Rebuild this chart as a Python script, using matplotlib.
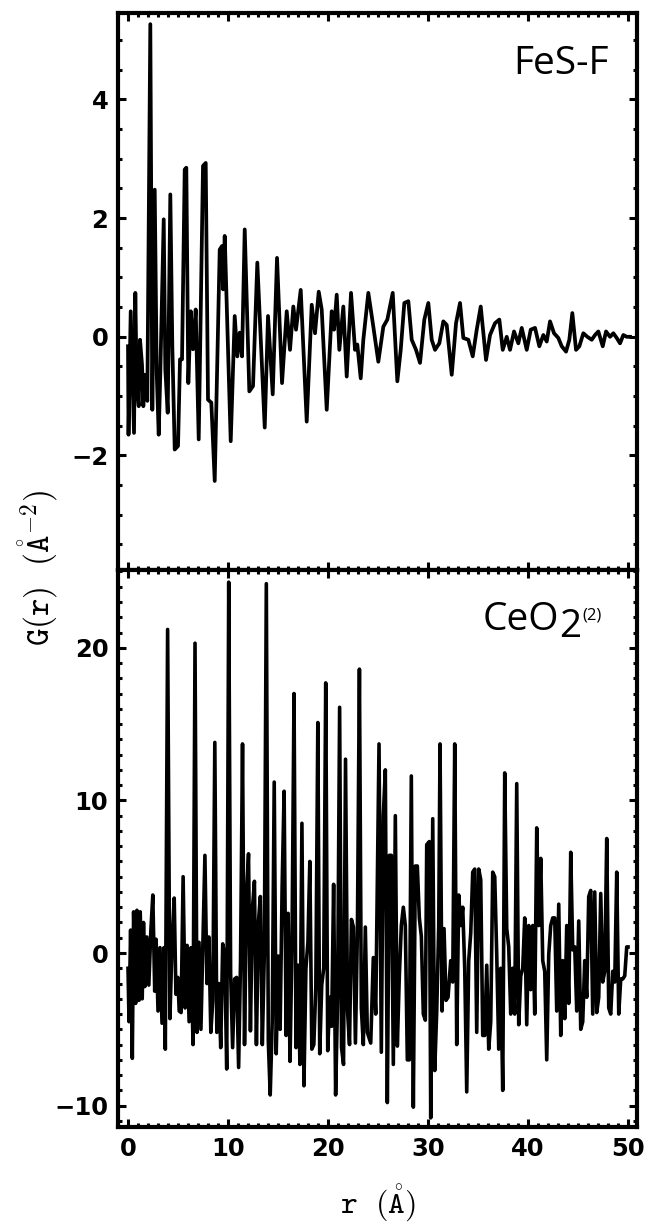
import numpy as np
import matplotlib
matplotlib.use('Agg')
import matplotlib.pyplot as plt
from matplotlib.ticker import MultipleLocator

# FeS-F pair distribution function
r_fes = [0.0, 0.05, 0.27, 0.6, 0.73, 0.87, 1.07, 1.2, 1.4, 1.53, 1.67, 1.93, 2.23, 2.43, 2.67,
         2.87, 3.07, 3.23, 3.57, 3.73, 3.97, 4.23, 4.43, 4.67, 5.0, 5.2, 5.4, 5.67, 5.83, 6.03,
         6.27, 6.5, 6.77, 7.07, 7.5, 7.77, 8.0, 8.33, 8.67, 9.17, 9.4, 9.5, 9.67, 10.27, 10.67,
         10.93, 11.17, 11.4, 11.67, 12.13, 12.5, 12.93, 13.67, 14.0, 14.47, 14.9, 15.4,
         15.87, 16.2, 16.53, 16.8, 17.27, 17.87, 18.37, 18.7, 19.07, 19.37, 19.87, 20.37, 20.6,
         20.87, 21.13, 21.53, 21.87, 22.3, 22.7, 22.93, 23.27, 23.53, 24.03, 24.53, 25.03, 25.53,
         25.93, 26.47, 26.93, 27.27, 27.63, 28.03, 28.37, 28.8, 29.2, 29.63, 30.03, 30.37, 30.7,
         31.13, 31.53, 31.87, 32.37, 32.8, 33.2, 33.53, 34.03, 34.47, 34.87, 35.27, 35.8, 36.2,
         36.7, 37.13, 37.47, 37.87, 38.2, 38.6, 39.03, 39.37, 39.87, 40.27, 40.7, 41.13, 41.53,
         41.87, 42.2, 42.6, 43.03, 43.37, 43.8, 44.13, 44.43, 44.8, 45.13, 45.53, 45.93, 46.37,
         46.7, 47.03, 47.47, 47.8, 48.2, 48.53, 48.87, 49.2, 49.53, 49.87, 50.2]
g_fes = [-0.16, -1.65, 0.43, -1.62, 0.74, -0.83, -1.17, -0.05, -0.47, -1.17, -0.64, -1.08, 5.27, -1.23, 2.48,
         -0.61, -1.65, -0.61, 1.98, -0.55, -1.28, 2.4, -0.16, -1.9, -1.84, -0.38, -0.38, 2.82, 2.85, -0.78,
         0.43, -0.21, 0.46, -1.73, 2.88, 2.93, -1.06, -1.11, -2.43, 1.47, 1.53, 0.8, 1.70, -1.76, 0.35,
         -0.33, 0.07, -0.33, 1.81, -0.92, -0.83, 1.25, -1.53, 0.35, -0.97, 1.33, -0.78,
         0.43, -0.22, 0.51, 0.12, 0.79, -1.43, 0.54, 0.06, 0.76, 0.46, -1.23, 0.43, 0.12,
         0.71, -0.22, 0.51, -0.67, 0.74, -0.22, -0.13, -0.70, -0.05, 0.74, 0.17, -0.42, 0.17,
         0.29, 0.74, -0.75, -0.22, 0.57, 0.60, -0.05, -0.22, -0.44, 0.29, 0.57, -0.05, -0.22,
         -0.11, 0.26, 0.2, -0.64, 0.23, 0.57, -0.02, -0.05, -0.33, 0.12, 0.51, -0.39, 0.03,
         0.23, 0.29, -0.22, 0.0, -0.22, 0.09, -0.11, 0.15, -0.22, 0.12, 0.15, -0.16, 0.03,
         -0.08, 0.26, 0.06, -0.02, -0.16, -0.25, -0.05, 0.40, -0.22, -0.16, 0.06, 0.0, -0.05,
         0.03, 0.09, -0.16, 0.09, 0.0, 0.06, -0.02, -0.11, 0.03, 0.0, 0.0]

# CeO2 reference pair distribution function
r_ceo = [0.0, 0.10, 0.26, 0.43, 0.56, 0.76, 0.89, 1.09, 1.22, 1.42, 1.55, 1.68, 1.88, 2.08, 2.28,
         2.48, 2.67, 2.81, 3.00, 3.20, 3.40, 3.60, 3.73, 3.96, 4.19, 4.39, 4.62, 4.79, 4.98, 5.12,
         5.31, 5.51, 5.71, 5.91, 6.11, 6.30, 6.50, 6.70, 6.90, 7.10, 7.29, 7.49, 7.69, 7.89, 8.09,
         8.28, 8.48, 8.68, 8.88, 9.08, 9.27, 9.47, 9.67, 9.87, 10.07, 10.26, 10.46, 10.66, 10.86,
         11.06, 11.25, 11.45, 11.65, 11.85, 12.05, 12.24, 12.44, 12.64, 12.84, 13.04, 13.23, 13.43,
         13.63, 13.83, 14.03, 14.22, 14.42, 14.62, 14.82, 15.02, 15.21, 15.41, 15.61, 15.81, 16.01,
         16.20, 16.40, 16.60, 16.80, 17.00, 17.19, 17.39, 17.59, 17.79, 17.99, 18.18, 18.38, 18.58,
         18.78, 18.98, 19.17, 19.37, 19.57, 19.77, 19.97, 20.17, 20.36, 20.56, 20.76, 20.96, 21.16,
         21.35, 21.55, 21.75, 21.95, 22.15, 22.34, 22.54, 22.74, 22.94, 23.14, 23.33, 23.53, 23.73,
         23.93, 24.27, 24.53, 24.77, 25.1, 25.33, 25.53, 25.73, 25.93, 26.13, 26.33, 26.53, 26.73,
         26.93, 27.13, 27.33, 27.53, 27.73, 27.93, 28.13, 28.33, 28.53, 28.73, 28.93, 29.13, 29.33,
         29.53, 29.73, 29.87, 30.13, 30.27, 30.47, 30.67, 30.87, 31.07, 31.2, 31.4, 31.6, 31.8,
         32.0, 32.27, 32.47, 32.67, 32.87, 33.07, 33.27, 33.47, 33.67, 33.87, 34.07, 34.27, 34.47,
         34.67, 34.87, 35.07, 35.27, 35.47, 35.67, 35.87, 36.07, 36.27, 36.47, 36.67, 36.87, 37.07,
         37.27, 37.47, 37.67, 37.87, 38.07, 38.27, 38.47, 38.67, 38.87, 39.07, 39.27, 39.47, 39.67,
         39.87, 40.07, 40.27, 40.47, 40.67, 40.87, 41.07, 41.27, 41.47, 41.67, 41.87, 42.07, 42.27,
         42.47, 42.67, 42.87, 43.07, 43.27, 43.47, 43.67, 43.87, 44.07, 44.27, 44.47, 44.67, 44.87,
         45.07, 45.27, 45.47, 45.67, 45.87, 46.07, 46.27, 46.47, 46.67, 46.87, 47.07, 47.27, 47.47,
         47.67, 47.87, 48.07, 48.27, 48.47, 48.67, 48.87, 49.07, 49.27, 49.47, 49.67, 49.87, 50.0]
g_ceo = [-1.0, -4.5, 1.5, -6.9, 2.7, -3.3, 2.8, -3.1, 2.7, -3.0, 2.0, -2.2, 1.05, -2.1, 1.4,
         3.8, -2.5, 0.9, -3.8, 0.35, -4.6, 0.35, -6.3, 21.2, -4.3, 0.35, 3.6, -2.7, -1.6, -3.8,
         -3.9, 5.0, -3.6, 0.5, -4.5, 0.35, -6.0, 20.3, -5.2, 0.7, -5.0, 0.8, 6.4, -2.0, 1.05,
         -5.2, -3.1, 13.8, -5.2, -2.0, -6.2, 0.6, -0.1, -7.6, 24.3, -1.3, -6.2, -1.7, -1.6,
         -7.5, -0.6, 13.7, -6.0, 3.8, 6.5, -5.1, 2.9, 4.7, -6.0, 2.0, 3.7, -6.0,
         -0.1, 24.2, -5.8, -9.3, -4.5, 11.2, -6.6, -0.2, -5.0, 4.3, 10.6, -5.4, 2.6,
         -7.1, 0.8, 17.0, -6.2, -0.8, -7.3, 8.5, -8.7, -1.0, 0.7, 6.0, -6.3, -6.0,
         -2.2, 15.1, -6.6, -2.1, -1.0, 17.7, -6.4, -2.9, -4.8, 4.5, -9.3, -2.9, 16.1,
         -6.2, -7.3, 12.7, -3.8, -6.0, 2.2, 1.7, -5.9, 1.5, 18.6, -3.6, -6.0, 1.7,
         -5.2, -5.9, -0.3, -4.0, 13.7, -6.5, 9.0, 12.0, -9.8, 6.4, 6.4, -7.3, 9.0,
         -6.1, -1.5, 1.8, 3.0, 1.8, -7.0, -7.0, 11.6, -10.1, 5.7, 5.7, 2.3, 1.1,
         -4.0, -4.4, 7.1, 7.3, -10.8, 8.8, -7.7, -3.8, 1.8, 13.7, -3.8, 1.6, -3.1,
         -2.9, -0.5, -1.9, 13.7, -6.0, 3.8, 1.8, 3.0, -1.0, -9.1, -0.5, 1.3, 5.3,
         5.5, -5.2, 5.5, 4.8, -5.4, -5.4, -0.8, -6.3, -4.5, 5.3, 5.0, -0.1, -6.3,
         -1.0, -9.0, 11.8, 1.6, 0.4, -4.0, -1.0, -4.0, 11.1, -4.7, -1.5, -1.0, 2.3,
         -4.7, 1.8, -2.4, 1.8, -4.0, 8.2, 1.8, 6.2, -0.5, -1.2, -7.0, -0.1, 1.8,
         2.3, 2.3, -3.8, 3.2, -5.4, -0.5, -4.3, 1.8, -3.3, 6.6, 0.2, 0.4, -3.8,
         2.1, -5.0, -4.5, -0.5, -2.9, 3.7, 4.1, -4.0, 4.0, -3.9, -2.9, 3.9, -1.9,
         -1.2, 7.5, -3.6, -4.0, -1.2, -1.9, 5.3, -4.0, -1.7, -1.7, -1.5, 0.4, 0.4]

plt.rcParams['font.family'] = 'DejaVu Sans'
plt.rcParams['font.weight'] = 'bold'
plt.rcParams['mathtext.fontset'] = 'cm'

fig = plt.figure(figsize=(6.47, 12.27), dpi=100)
ax1 = fig.add_axes([0.1824, 0.5355, 0.8022, 0.4540])
ax2 = fig.add_axes([0.1824, 0.0815, 0.8022, 0.4540])

ax1.plot(r_fes, g_fes, color='k', lw=2.7)
ax2.plot(r_ceo, g_ceo, color='k', lw=2.6)

for ax in (ax1, ax2):
    ax.set_xlim(-1, 50.9)
    ax.xaxis.set_major_locator(MultipleLocator(10))
    ax.xaxis.set_minor_locator(MultipleLocator(1))
    ax.tick_params(which='both', direction='in', top=True, right=True,
                   labelsize=17.5, pad=7)
    ax.tick_params(which='major', length=6, width=2.2)
    ax.tick_params(which='minor', length=3, width=2.2)
    for s in ax.spines.values():
        s.set_linewidth(3)

ax1.set_ylim(-3.93, 5.46)
ax1.yaxis.set_major_locator(MultipleLocator(2))
ax1.yaxis.set_minor_locator(MultipleLocator(0.5))
ax1.tick_params(labelbottom=False)

ax2.set_ylim(-11.4, 25.1)
ax2.yaxis.set_major_locator(MultipleLocator(10))
ax2.yaxis.set_minor_locator(MultipleLocator(1))

ax2.set_xlabel(r'$\mathtt{r\ \ (\mathring{A})}$', fontsize=23, fontweight='normal', labelpad=16)
fig.text(38 / 647, 1 - 568 / 1227, r'$\mathtt{G(r)\ \ (\mathring{A}^{-2})}$',
         fontsize=24, fontweight='normal', rotation=90, ha='center', va='center')

ax1.text(0.761, 0.890, 'FeS-F', transform=ax1.transAxes, family='Open Sans',
         fontweight='normal', fontsize=28, ha='left', va='baseline')
t1 = ax2.text(0.703, 0.892, 'CeO', transform=ax2.transAxes, family='Open Sans',
              fontweight='normal', fontsize=28, ha='left', va='baseline')
t2 = ax2.annotate('2', xy=(1, 0), xycoords=t1, xytext=(0, -7),
                  textcoords='offset pixels', family='Open Sans',
                  fontweight='normal', fontsize=28, ha='left', va='bottom')
ax2.annotate('(2)', xy=(1, 1), xycoords=t2, xytext=(1, 1),
             textcoords='offset pixels', family='Open Sans',
             fontweight='normal', fontsize=12, ha='left', va='top')

fig.savefig('out.png', dpi=100)
